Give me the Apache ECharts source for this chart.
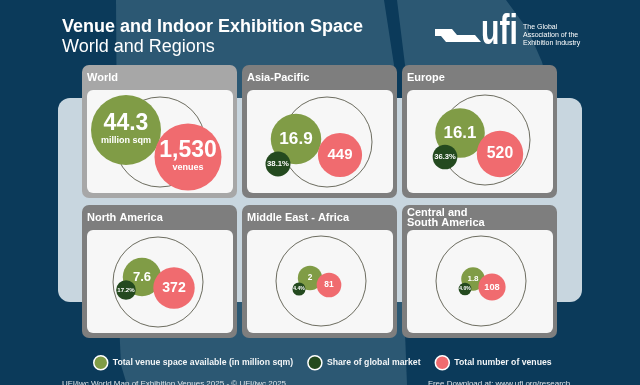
<!DOCTYPE html>
<html><head><meta charset="utf-8">
<script src="https://cdn.jsdelivr.net/npm/echarts@6/dist/echarts.min.js"></script>
<style>html,body{margin:0;padding:0;background:#0b3a5a;}#c{width:640px;height:385px;}</style>
</head><body><div id="c"></div>
<script>
// ---------------- data ----------------
const titleLine1 = 'Venue and Indoor Exhibition Space';
const titleLine2 = 'World and Regions';
const regions = ['World', 'Asia-Pacific', 'Europe', 'North America', 'Middle East - Africa', 'Central and\nSouth America'];
const spaceMillionSqm = [44.3, 16.9, 16.1, 7.6, 2, 1.8];
const sharePct = [null, 38.1, 36.3, 17.2, 4.4, 4.0];
const venueCount = [1530, 449, 520, 372, 81, 108];
const legendLabels = ['Total venue space available (in million sqm)', 'Share of global market', 'Total number of venues'];
const worldUnits = ['million sqm', 'venues'];
const logoWord = 'ufi';
const logoTagline = ['The Global', 'Association of the', 'Exhibition Industry'];
const footerLeft = 'UFI/jwc World Map of Exhibition Venues 2025 - \u00A9 UFI/jwc 2025';
const footerRight = 'Free Download at: www.ufi.org/research';

// ---------------- layout ----------------
const FONT = "Arial, 'Liberation Sans', sans-serif";
const COLS = [82, 242, 402], ROWS = [65, 205], PW = 155, PH = 133;
const CENTERS = [
  {o: [160, 142], s: [126, 130], h: null, v: [188, 157]},
  {o: [327, 142], s: [296, 139], h: [278, 164], v: [340, 155]},
  {o: [485, 140], s: [460, 133], h: [445, 157], v: [500, 154]},
  {o: [158, 282], s: [142, 277], h: [126, 290], v: [174, 288]},
  {o: [321, 281], s: [310, 278], h: [299, 289], v: [329, 285]},
  {o: [481, 281], s: [473, 279], h: [465, 289], v: [492, 287]}
];
const COLORS = {space: '#809c46', share: '#244a1f', venues: '#f06b6f', outline: '#4a4a3a'};
const OUTLINE_D = 90;

function scale(v, arr, dmax, p) {
  const vmax = Math.max(...arr.filter(x => x != null));
  return dmax * Math.pow(v / vmax, p);
}
const dSpace = v => scale(v, spaceMillionSqm, 70, 0.34);
const dVenue = v => scale(v, venueCount, 67, 0.34);
const dShare = v => scale(v, sharePct, 25, 0.3);

function fmtVenue(v) { return v.toLocaleString('en-US'); }

const outlineData = regions.map((r, i) => ({value: [CENTERS[i].o[0], CENTERS[i].o[1], 1]}));

const worldRich = {a: {fontSize: 23, fontWeight: 'bold', color: '#fff', fontFamily: FONT, lineHeight: 22},
                   b: {fontSize: 9, fontWeight: 'bold', color: '#fff', fontFamily: FONT, lineHeight: 12}};

const spaceData = spaceMillionSqm.map((v, i) => {
  const d = dSpace(v);
  const item = {value: [CENTERS[i].s[0], CENTERS[i].s[1], v], symbolSize: d};
  item.label = i === 0
    ? {formatter: '{a|' + v + '}\n{b|' + worldUnits[0] + '}', rich: worldRich}
    : {formatter: String(v), fontSize: Math.max(6, d * 0.34)};
  return item;
});

const shareData = [];
sharePct.forEach((v, i) => {
  if (v == null) return;
  const d = dShare(v);
  shareData.push({value: [CENTERS[i].h[0], CENTERS[i].h[1], v], symbolSize: d,
    label: {formatter: v.toFixed(1) + '%', fontSize: Math.max(5, d * 0.31)}});
});

const venueData = venueCount.map((v, i) => {
  const d = dVenue(v);
  const item = {value: [CENTERS[i].v[0], CENTERS[i].v[1], v], symbolSize: d};
  item.label = i === 0
    ? {formatter: '{a|' + fmtVenue(v) + '}\n{b|' + worldUnits[1] + '}', rich: worldRich}
    : {formatter: fmtVenue(v), fontSize: Math.max(6, d * 0.34)};
  return item;
});

// ---------------- graphics (background, panels, titles) ----------------
const g = [];
g.push({type: 'rect', shape: {x: 0, y: 0, width: 640, height: 385}, style: {fill: '#0b3a5a'}, z: -100});
g.push({type: 'polygon', shape: {points: [[116, 0], [384, 0], [394, 65], [400, 200], [407, 385], [127, 385], [121, 365], [118, 300]]}, style: {fill: '#2c5873'}, z: -99});
g.push({type: 'polygon', shape: {points: [[397, 0], [506, 0], [528, 30], [542, 62], [552, 100], [552, 200], [410, 200], [405, 65]]}, style: {fill: '#2c5873'}, z: -99});
g.push({type: 'rect', shape: {x: 58, y: 98, width: 524, height: 204, r: 12}, style: {fill: '#c8d6df'}, z: -98});

regions.forEach((r, i) => {
  const x = COLS[i % 3], y = ROWS[Math.floor(i / 3)];
  g.push({type: 'rect', shape: {x: x, y: y, width: PW, height: PH, r: 7}, style: {fill: i === 0 ? '#a7a7a7' : '#7e7e7e'}, z: -90});
  g.push({type: 'rect', shape: {x: x + 5, y: y + 25, width: PW - 9, height: PH - 30, r: 6}, style: {fill: '#f7f7f7'}, z: -89});
  const twoLine = r.indexOf('\n') >= 0;
  g.push({type: 'text', x: x + 5, y: twoLine ? y + 3 : y + 8, style: {text: r, fill: '#ffffff', font: 'bold 11px ' + FONT, lineHeight: 10, textVerticalAlign: 'top'}, z: -88});
});

g.push({type: 'text', x: 62, y: 18, style: {text: titleLine1, fill: '#ffffff', font: 'bold 18px ' + FONT}, z: -80});
g.push({type: 'text', x: 62, y: 38, style: {text: titleLine2, fill: '#ffffff', font: '18px ' + FONT}, z: -80});

// logo
g.push({type: 'polygon', shape: {points: [[435, 29], [452, 29], [457, 35], [475, 35], [481, 42], [446, 42], [441, 36], [435, 36]]}, style: {fill: '#ffffff'}, z: -80});
g.push({type: 'text', x: 481, y: 11, scaleX: 0.72, style: {text: logoWord, fill: '#ffffff', font: '900 42px ' + FONT}, z: -80});
g.push({type: 'text', x: 523, y: 23, style: {text: logoTagline.join('\n'), fill: '#ffffff', font: '7px ' + FONT, lineHeight: 8}, z: -80});

// footer
g.push({type: 'text', x: 62, y: 380, style: {text: footerLeft, fill: '#dfe6ea', font: '8px ' + FONT}, z: -80});
g.push({type: 'text', x: 428, y: 380, style: {text: footerRight, fill: '#dfe6ea', font: '8px ' + FONT}, z: -80});

const baseLabel = {show: true, position: 'inside', color: '#ffffff', fontWeight: 'bold', fontFamily: FONT};

const option = {
  animation: false,
  backgroundColor: '#0b3a5a',
  graphic: {elements: g},
  grid: {left: 0, top: 0, width: 640, height: 385},
  xAxis: {type: 'value', min: 0, max: 640, show: false},
  yAxis: {type: 'value', min: 0, max: 385, inverse: true, show: false},
  legend: {
    data: legendLabels, left: 88, top: 350, width: 600, itemWidth: 14, itemHeight: 14, itemGap: 14,
    icon: 'circle', selectedMode: false,
    itemStyle: {borderColor: '#ffffff', borderWidth: 1.5},
    textStyle: {color: '#f2f5f7', fontWeight: 'bold', fontSize: 8.7, fontFamily: FONT}
  },
  series: [
    {type: 'scatter', name: 'outline', z: 10, silent: true, symbolSize: OUTLINE_D, data: outlineData,
      itemStyle: {color: 'rgba(0,0,0,0)', borderColor: COLORS.outline, borderWidth: 1}},
    {type: 'scatter', name: legendLabels[0], z: 11, data: spaceData, itemStyle: {color: COLORS.space, opacity: 1}, label: baseLabel},
    {type: 'scatter', name: legendLabels[2], z: 12, data: venueData, itemStyle: {color: COLORS.venues, opacity: 1}, label: baseLabel},
    {type: 'scatter', name: legendLabels[1], z: 13, data: shareData, itemStyle: {color: COLORS.share, opacity: 1}, label: baseLabel}
  ]
};
const chart = echarts.init(document.getElementById('c'));
chart.setOption(option);
</script></body></html>
